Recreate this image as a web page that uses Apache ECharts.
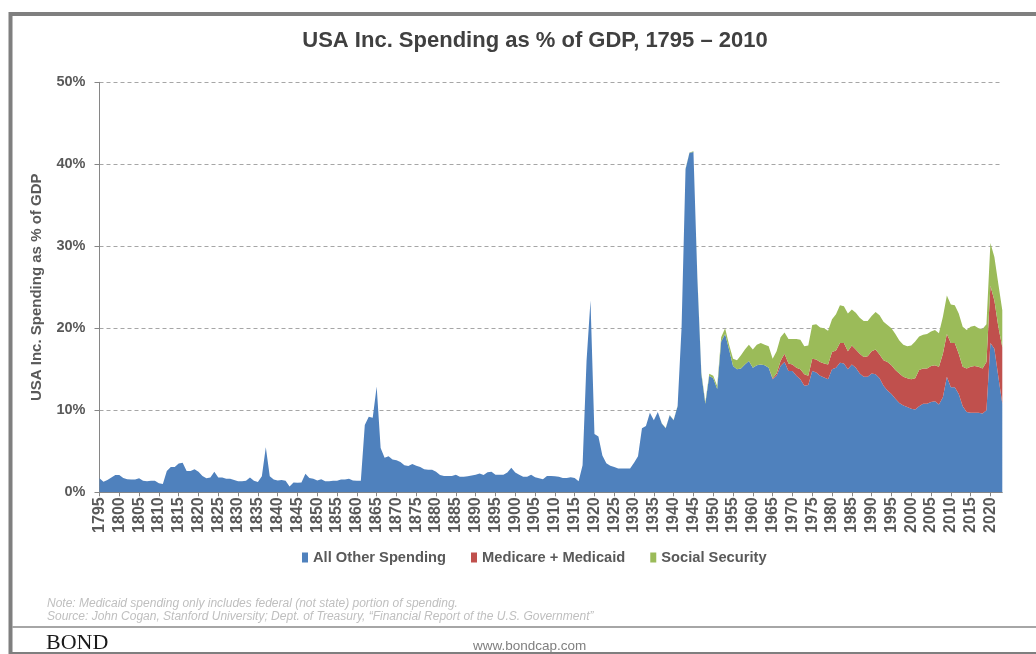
<!DOCTYPE html>
<html>
<head>
<meta charset="utf-8">
<script src="https://cdn.jsdelivr.net/npm/echarts@6/dist/echarts.min.js"></script>
<style>
html,body{margin:0;padding:0;background:#fff;}
#chart{width:1036px;height:654px;}
</style>
</head>
<body>
<div id="chart"></div>
<script>
// ---------- DATA ----------
const firstYear = 1795;
const lastYear = 2023;
const years = [];
for (let y = firstYear; y <= lastYear; y++) years.push(String(y));

const seriesNames = ['All Other Spending', 'Medicare + Medicaid', 'Social Security'];

// % of GDP, 1795..2023
const allOther = [
  1.7, 1.3, 1.5, 1.8, 2.1,
  2.1, 1.75, 1.6, 1.55, 1.55, 1.7, 1.4, 1.35, 1.4, 1.4,
  1.1, 1.0, 2.6, 3.1, 3.1, 3.5, 3.6, 2.6, 2.6, 2.8,
  2.5, 2.0, 1.7, 1.8, 2.5, 1.8, 1.8, 1.65, 1.65, 1.5,
  1.35, 1.35, 1.4, 1.8, 1.4, 1.25, 1.95, 5.5, 1.95, 1.55,
  1.45, 1.5, 1.4, 0.7, 1.2, 1.15, 1.2, 2.25, 1.75, 1.65,
  1.45, 1.6, 1.35, 1.35, 1.4, 1.4, 1.55, 1.55, 1.65, 1.45,
  1.4, 1.4, 8.2, 9.2, 9.1, 12.9, 5.4, 4.2, 4.4, 4.0,
  3.9, 3.7, 3.3, 3.2, 3.45, 3.25, 3.1, 2.8, 2.75, 2.75,
  2.5, 2.1, 2.0, 2.0, 2.0, 2.15, 1.9, 1.9, 1.95, 2.05,
  2.15, 2.3, 2.1, 2.45, 2.5, 2.15, 2.15, 2.15, 2.4, 3.0,
  2.4, 2.15, 1.9, 1.9, 2.15, 1.85, 1.7, 1.6, 2.0, 2.0,
  1.95, 1.9, 1.75, 1.75, 1.85, 1.75, 1.35, 3.3, 16.0, 23.4,
  7.1, 6.8, 4.5, 3.55, 3.25, 3.1, 2.9, 2.9, 2.9, 2.9,
  3.6, 4.4, 7.8, 8.1, 9.7, 8.8, 9.8, 8.4, 7.8, 9.4,
  8.8, 10.5, 20.1, 39.4, 41.4, 41.5, 26.0, 14.4, 10.8, 14.2,
  13.9, 12.6, 18.4, 19.3, 17.4, 15.4, 15.0, 15.1, 15.6, 16.0,
  15.2, 15.5, 15.6, 15.5, 15.2, 13.8, 14.2, 15.4, 15.9, 14.8,
  14.8, 14.2, 13.8, 13.0, 13.1, 14.8, 14.6, 14.2, 14.0, 13.8,
  15.0, 15.2, 15.8, 15.7, 15.0, 15.6, 15.2, 14.5, 14.1, 14.1,
  14.5, 14.4, 13.9, 13.0, 12.4, 12.0, 11.4, 10.9, 10.6, 10.4,
  10.2, 10.1, 10.5, 10.8, 10.8, 11.0, 11.1, 10.7, 11.6, 14.1,
  12.8, 12.8, 12.0, 10.5, 9.8, 9.7, 9.7, 9.7, 9.6, 10.0,
  18.2, 17.5, 14.1, 10.8
];

const medicare = [
  0, 0, 0, 0, 0,
  0, 0, 0, 0, 0, 0, 0, 0, 0, 0,
  0, 0, 0, 0, 0, 0, 0, 0, 0, 0,
  0, 0, 0, 0, 0, 0, 0, 0, 0, 0,
  0, 0, 0, 0, 0, 0, 0, 0, 0, 0,
  0, 0, 0, 0, 0, 0, 0, 0, 0, 0,
  0, 0, 0, 0, 0, 0, 0, 0, 0, 0,
  0, 0, 0, 0, 0, 0, 0, 0, 0, 0,
  0, 0, 0, 0, 0, 0, 0, 0, 0, 0,
  0, 0, 0, 0, 0, 0, 0, 0, 0, 0,
  0, 0, 0, 0, 0, 0, 0, 0, 0, 0,
  0, 0, 0, 0, 0, 0, 0, 0, 0, 0,
  0, 0, 0, 0, 0, 0, 0, 0, 0, 0,
  0, 0, 0, 0, 0, 0, 0, 0, 0, 0,
  0, 0, 0, 0, 0, 0, 0, 0, 0, 0,
  0, 0, 0, 0, 0, 0, 0, 0, 0, 0,
  0, 0, 0, 0, 0, 0, 0, 0, 0, 0,
  0, 0, 0, 0, 0, 0.1, 0.3, 0.6, 1.0, 0.9,
  0.8, 1.0, 1.2, 1.4, 1.1, 1.5, 1.6, 1.7, 1.7, 1.8,
  2.1, 2.1, 2.4, 2.5, 2.2, 2.3, 2.2, 2.4, 2.4, 2.5,
  2.7, 3.0, 2.9, 3.1, 3.5, 3.5, 3.5, 3.6, 3.5, 3.5,
  3.6, 3.8, 4.4, 4.3, 4.3, 4.4, 4.4, 4.6, 5.3, 5.2,
  5.4, 5.4, 4.9, 4.8, 5.3, 5.6, 5.7, 5.6, 5.5, 5.9,
  7.0, 5.9, 6.1, 6.9
];

const socialSecurity = [
  0, 0, 0, 0, 0,
  0, 0, 0, 0, 0, 0, 0, 0, 0, 0,
  0, 0, 0, 0, 0, 0, 0, 0, 0, 0,
  0, 0, 0, 0, 0, 0, 0, 0, 0, 0,
  0, 0, 0, 0, 0, 0, 0, 0, 0, 0,
  0, 0, 0, 0, 0, 0, 0, 0, 0, 0,
  0, 0, 0, 0, 0, 0, 0, 0, 0, 0,
  0, 0, 0, 0, 0, 0, 0, 0, 0, 0,
  0, 0, 0, 0, 0, 0, 0, 0, 0, 0,
  0, 0, 0, 0, 0, 0, 0, 0, 0, 0,
  0, 0, 0, 0, 0, 0, 0, 0, 0, 0,
  0, 0, 0, 0, 0, 0, 0, 0, 0, 0,
  0, 0, 0, 0, 0, 0, 0, 0, 0, 0,
  0, 0, 0, 0, 0, 0, 0, 0, 0, 0,
  0, 0, 0, 0, 0, 0, 0, 0.02, 0.03, 0.03,
  0.03, 0.04, 0.05, 0.05, 0.05, 0.1, 0.15, 0.2, 0.2, 0.25,
  0.3, 0.35, 0.5, 0.7, 0.6, 0.9, 1.1, 1.6, 1.8, 2.0,
  2.2, 2.5, 2.6, 2.5, 2.6, 2.4, 2.7, 2.9, 2.6, 3.0,
  3.1, 3.5, 3.6, 3.4, 3.7, 4.1, 4.3, 4.2, 4.3, 4.1,
  4.0, 4.4, 4.6, 4.5, 4.6, 4.4, 4.5, 4.4, 4.4, 4.3,
  4.3, 4.6, 4.8, 4.7, 4.5, 4.5, 4.4, 4.0, 3.9, 3.9,
  4.1, 4.5, 4.1, 4.1, 4.2, 4.2, 4.3, 4.1, 4.5, 4.7,
  4.7, 4.6, 4.9, 4.9, 4.7, 4.9, 4.9, 4.7, 4.8, 4.6,
  5.2, 5.3, 5.2, 4.5
];

const seriesColors = ['#4F81BD', '#C0504D', '#9BBB59'];

// ---------- CHART ----------
const FONT = '"Liberation Sans", Arial, sans-serif';
const chart = echarts.init(document.getElementById('chart'), null, { renderer: 'canvas' });

function areaSeries(name, data, color) {
  return {
    name: name,
    type: 'line',
    stack: 'total',
    data: data,
    symbol: 'none',
    showSymbol: false,
    lineStyle: { width: 0, color: color, opacity: 0 },
    areaStyle: { color: color, opacity: 1 },
    itemStyle: { color: color },
    emphasis: { disabled: true },
    animation: false
  };
}

const option = {
  animation: false,
  backgroundColor: '#ffffff',
  title: {
    text: 'USA Inc. Spending as % of GDP, 1795 \u2013 2010',
    left: 530,
    textAlign: 'center',
    top: 25,
    textStyle: { fontFamily: FONT, fontSize: 22, fontWeight: 'bold', color: '#404040' }
  },
  legend: {
    data: seriesNames,
    left: 297,
    top: 545,
    icon: 'rect',
    itemWidth: 6,
    itemHeight: 10,
    itemGap: 25,
    textStyle: { fontFamily: FONT, fontSize: 14.7, fontWeight: 'bold', color: '#595959' },
    selectedMode: false
  },
  grid: { left: 99.5, right: 33.7, top: 82.3, bottom: 161.7, containLabel: false },
  xAxis: {
    type: 'category',
    data: years,
    boundaryGap: false,
    axisLine: { lineStyle: { color: '#868686', width: 1 } },
    axisTick: {
      show: true, length: 4, lineStyle: { color: '#868686' },
      interval: function (i) { return i % 5 === 0; }
    },
    axisLabel: {
      interval: function (i) { return i % 5 === 0; },
      rotate: 90,
      margin: 5,
      fontFamily: FONT, fontSize: 16, fontWeight: 'bold', color: '#595959'
    },
    splitLine: { show: false }
  },
  yAxis: {
    type: 'value',
    min: 0, max: 50, interval: 10,
    name: 'USA Inc. Spending as % of GDP',
    nameLocation: 'middle',
    nameGap: 55,
    nameRotate: 90,
    nameTextStyle: { fontFamily: FONT, fontSize: 15, fontWeight: 'bold', color: '#595959' },
    axisLine: { show: true, lineStyle: { color: '#868686', width: 1 } },
    axisTick: { show: true, length: 5, lineStyle: { color: '#868686' } },
    axisLabel: {
      formatter: '{value}%', margin: 14,
      fontFamily: FONT, fontSize: 14.5, fontWeight: 'bold', color: '#595959'
    },
    splitLine: { show: true, lineStyle: { color: '#a6a6a6', type: [4, 3], width: 1 } }
  },
  series: [
    areaSeries(seriesNames[0], allOther, seriesColors[0]),
    areaSeries(seriesNames[1], medicare, seriesColors[1]),
    areaSeries(seriesNames[2], socialSecurity, seriesColors[2])
  ],
  graphic: [
    // outer frame
    { type: 'line', shape: { x1: 10.5, y1: 12, x2: 10.5, y2: 654 }, style: { stroke: '#7f7f7f', lineWidth: 4 }, silent: true },
    { type: 'line', shape: { x1: 9, y1: 14, x2: 1036, y2: 14 }, style: { stroke: '#7f7f7f', lineWidth: 4 }, silent: true },
    { type: 'line', shape: { x1: 12, y1: 627, x2: 1036, y2: 627 }, style: { stroke: '#a6a6a6', lineWidth: 2 }, silent: true },
    { type: 'line', shape: { x1: 9, y1: 653, x2: 1036, y2: 653 }, style: { stroke: '#7f7f7f', lineWidth: 2 }, silent: true },
    // notes
    { type: 'text', left: 47, top: 598, silent: true,
      style: { text: 'Note: Medicaid spending only includes federal (not state) portion of spending.',
        fontFamily: FONT, fontSize: 12, fontStyle: 'italic', fill: '#bfbfbf' } },
    { type: 'text', left: 47, top: 611, silent: true,
      style: { text: 'Source: John Cogan, Stanford University; Dept. of Treasury, \u201CFinancial Report of the U.S. Government\u201D',
        fontFamily: FONT, fontSize: 12, fontStyle: 'italic', fill: '#bfbfbf' } },
    // footer
    { type: 'text', left: 46, top: 632, silent: true,
      style: { text: 'BOND', fontFamily: '"Liberation Serif", "Times New Roman", serif', fontSize: 22, fill: '#1a1a1a' } },
    { type: 'text', left: 473, top: 639, silent: true,
      style: { text: 'www.bondcap.com', fontFamily: FONT, fontSize: 13.5, fill: '#7f7f7f' } }
  ]
};

chart.setOption(option);
</script>
</body>
</html>
